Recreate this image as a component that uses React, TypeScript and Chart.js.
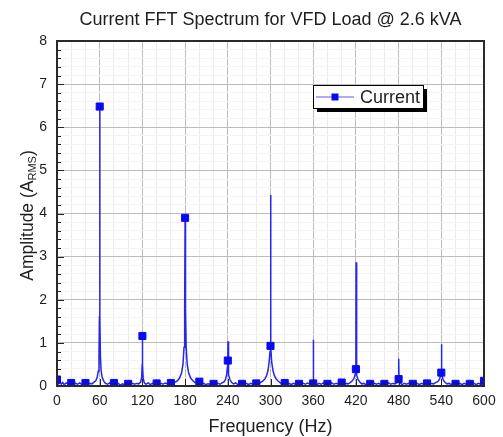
import React, { useEffect, useRef } from 'react';
import { Chart, registerables } from 'chart.js';

Chart.register(...registerables);

const chartTitle = 'Current FFT Spectrum for VFD Load @ 2.6 kVA';
const xAxisTitle = 'Frequency (Hz)';
const yAxisTitleMain = 'Amplitude (A';
const yAxisTitleSub = 'RMS';
const yAxisTitleEnd = ')';
const seriesName = 'Current';

// x-axis: 0..600 Hz, labels every 60, minor every 20
const xMin = 0;
const xMax = 600;
const xMajorStep = 60;
const xMinorStep = 20;
// y-axis: 0..8 A, labels every 1, minor every 0.2
const yMin = 0;
const yMax = 8;
const yMinorStep = 0.2;
// markers are drawn on every sample that falls on a multiple of this
const markerStepHz = 20;

const freqHz = [
  0, 1, 2.5, 4, 6, 8, 10, 13, 16, 20, 23, 26, 29, 32, 35, 38, 40, 43, 46, 49,
  52, 54.5, 56.5, 58, 59, 59.6, 60, 60.4, 61, 62, 63.5, 65.5, 68, 71, 74, 77,
  80, 83, 86, 89, 92, 95, 98, 100, 103, 106, 109, 112, 115, 117.5, 119, 119.7,
  120, 120.3, 121, 122.5, 125, 128, 131, 134, 137, 140, 143, 146, 149, 152, 155,
  158, 160, 163, 166, 169, 172, 175, 177, 178.5, 179.4, 180, 180.6, 181.5, 183,
  185, 188, 191, 194, 197, 200, 203, 206, 209, 212, 215, 218, 220, 223, 226, 229,
  232, 235, 237, 238.5, 239.5, 240, 240.3, 240.6, 241.5, 243, 245.5, 248, 251,
  254, 257, 260, 263, 266, 269, 272, 275, 278, 280, 283, 286, 289, 292, 294.5,
  296.5, 298, 299.3, 300, 300.3, 300.7, 301.7, 303.5, 305.5, 308, 311, 314, 317,
  320, 323, 326, 329, 332, 335, 338, 340, 343, 346, 349, 352, 355, 358, 359.6,
  360, 360.2, 360.5, 362, 365, 368, 371, 374, 377, 380, 383, 386, 389, 392, 395,
  398, 400, 403, 406, 409, 412, 415, 417.5, 419, 420, 420.3, 420.6, 421.5, 423,
  425.5, 428, 431, 434, 437, 440, 443, 446, 449, 452, 455, 458, 460, 463, 466,
  469, 472, 475, 478, 479.5, 480, 480.3, 480.6, 482, 485, 488, 491, 494, 497,
  500, 503, 506, 509, 512, 515, 518, 520, 523, 526, 529, 532, 535, 537.5, 539,
  540, 540.3, 540.6, 541.5, 543, 545.5, 548, 551, 554, 557, 560, 563, 566, 569,
  572, 575, 578, 580, 583, 586, 589, 592, 595, 597, 599, 600,
];

const ampRms = [
  0.15, 0.12, 0.05, 0.1, 0.04, 0.08, 0.03, 0.07, 0.04, 0.07, 0.03, 0.06, 0.04, 0.07, 0.03, 0.06, 0.07, 0.04, 0.06, 0.05,
  0.09, 0.12, 0.2, 0.35, 0.7, 1.6, 6.48, 1.6, 0.7, 0.35, 0.2, 0.12, 0.06, 0.04, 0.07, 0.03,
  0.07, 0.04, 0.06, 0.02, 0.05, 0.03, 0.06, 0.05, 0.03, 0.06, 0.04, 0.06, 0.05, 0.09, 0.2, 0.5,
  1.16, 0.5, 0.2, 0.08, 0.04, 0.07, 0.03, 0.06, 0.04, 0.06, 0.03, 0.06, 0.04, 0.07, 0.05,
  0.06, 0.07, 0.06, 0.09, 0.12, 0.18, 0.3, 0.5, 0.9, 1.8, 3.9, 1.8, 0.9, 0.5,
  0.3, 0.18, 0.12, 0.08, 0.06, 0.1, 0.04, 0.06, 0.03, 0.05, 0.04, 0.06, 0.05, 0.03, 0.06, 0.04,
  0.07, 0.1, 0.16, 0.28, 0.45, 0.59, 1.04, 0.45, 0.26, 0.15, 0.08, 0.05, 0.07,
  0.03, 0.06, 0.05, 0.04, 0.06, 0.03, 0.06, 0.04, 0.07, 0.06, 0.05, 0.08, 0.11, 0.16, 0.24,
  0.36, 0.55, 0.8, 0.93, 4.43, 0.9, 0.55, 0.36, 0.24, 0.16, 0.11, 0.07, 0.04,
  0.07, 0.04, 0.06, 0.03, 0.06, 0.04, 0.06, 0.05, 0.03, 0.06, 0.04, 0.07, 0.05, 0.07, 0.08,
  0.06, 1.07, 0.08, 0.05, 0.03, 0.06, 0.04, 0.07, 0.05, 0.05, 0.04, 0.07, 0.04, 0.06, 0.05,
  0.07, 0.08, 0.05, 0.06, 0.05, 0.08, 0.12, 0.18, 0.28, 0.39, 2.87, 0.4, 0.25, 0.15,
  0.09, 0.05, 0.06, 0.03, 0.06, 0.05, 0.03, 0.06, 0.04, 0.06, 0.03, 0.06, 0.05, 0.04, 0.07,
  0.04, 0.06, 0.05, 0.08, 0.12, 0.16, 0.63, 0.12, 0.07, 0.03, 0.06, 0.04, 0.06, 0.03,
  0.05, 0.04, 0.06, 0.03, 0.06, 0.04, 0.07, 0.06, 0.04, 0.06, 0.05, 0.08, 0.1, 0.16, 0.24,
  0.31, 0.97, 0.3, 0.2, 0.13, 0.08, 0.05, 0.06, 0.03, 0.06, 0.05, 0.04, 0.06, 0.03,
  0.06, 0.04, 0.06, 0.05, 0.04, 0.06, 0.03, 0.06, 0.04, 0.06, 0.1, 0.12,
];

const FONT = "'Liberation Sans', Arial, Helvetica, sans-serif";
const TEXT = '#1e1e1e';
const LINE_BLUE = '#2626ec';
const MARK_BLUE = '#0a0af2';

const isOnStep = (v: number, step: number) => Math.abs(v / step - Math.round(v / step)) < 1e-6;

const decorPlugin = {
  id: 'decor',
  afterDraw(chart: any) {
    const { ctx, chartArea: a, scales } = chart;
    const xs = scales.x;
    const ys = scales.y;
    ctx.save();

    // inward ticks
    ctx.strokeStyle = '#222';
    ctx.lineWidth = 1;
    const nY = Math.round((yMax - yMin) / yMinorStep);
    for (let i = 0; i <= nY; i++) {
      const v = yMin + i * yMinorStep;
      const major = isOnStep(v, 1);
      const py = Math.round(ys.getPixelForValue(v)) + 0.5;
      ctx.beginPath();
      ctx.moveTo(a.left, py);
      ctx.lineTo(a.left + (major ? 7 : 4), py);
      ctx.stroke();
    }
    for (let f = xMin; f <= xMax; f += xMinorStep) {
      const major = f % xMajorStep === 0;
      const px = Math.round(xs.getPixelForValue(f)) + 0.5;
      ctx.beginPath();
      ctx.moveTo(px, a.bottom);
      ctx.lineTo(px, a.bottom - (major ? 7 : 4));
      ctx.stroke();
    }

    // frame
    ctx.strokeStyle = '#2a2a2a';
    ctx.lineWidth = 2;
    ctx.strokeRect(a.left, a.top, a.right - a.left, a.bottom - a.top);

    // title
    ctx.fillStyle = TEXT;
    ctx.textAlign = 'center';
    ctx.textBaseline = 'middle';
    ctx.font = `18px ${FONT}`;
    ctx.fillText(chartTitle, (a.left + a.right) / 2, 20);

    // x title
    ctx.font = `18px ${FONT}`;
    ctx.fillText(xAxisTitle, (a.left + a.right) / 2, 427);

    // y title with subscript
    ctx.save();
    ctx.translate(28, (a.top + a.bottom) / 2 + 2);
    ctx.rotate(-Math.PI / 2);
    ctx.textAlign = 'left';
    ctx.font = `17.5px ${FONT}`;
    const wMain = ctx.measureText(yAxisTitleMain).width;
    const wEnd = ctx.measureText(yAxisTitleEnd).width;
    ctx.font = `11px ${FONT}`;
    const wSub = ctx.measureText(yAxisTitleSub).width;
    const total = wMain + wSub + wEnd;
    let cx = -total / 2;
    ctx.font = `17.5px ${FONT}`;
    ctx.fillText(yAxisTitleMain, cx, 0);
    cx += wMain;
    ctx.font = `11px ${FONT}`;
    ctx.fillText(yAxisTitleSub, cx, 5);
    cx += wSub;
    ctx.font = `17.5px ${FONT}`;
    ctx.fillText(yAxisTitleEnd, cx, 0);
    ctx.restore();

    // legend box with shadow
    const lx = a.left + 256;
    const ly = a.top + 44;
    const lw = 110;
    const lh = 23;
    ctx.fillStyle = '#000';
    ctx.fillRect(lx + 4, ly + 4, lw, lh);
    ctx.fillStyle = '#fff';
    ctx.fillRect(lx, ly, lw, lh);
    ctx.strokeStyle = '#000';
    ctx.lineWidth = 1;
    ctx.strokeRect(lx + 0.5, ly + 0.5, lw, lh);
    const my = ly + lh / 2 + 0.5;
    ctx.strokeStyle = '#5a5aff';
    ctx.lineWidth = 1.2;
    ctx.beginPath();
    ctx.moveTo(lx + 3, my);
    ctx.lineTo(lx + 41, my);
    ctx.stroke();
    ctx.fillStyle = MARK_BLUE;
    ctx.fillRect(lx + 22 - 3.5, my - 3.5, 7, 7);
    ctx.fillStyle = TEXT;
    ctx.textAlign = 'left';
    ctx.textBaseline = 'middle';
    ctx.font = `18px ${FONT}`;
    ctx.fillText(seriesName, lx + 47, my + 1);

    ctx.restore();
  },
};

export default function App() {
  const canvasRef = useRef<HTMLCanvasElement | null>(null);

  useEffect(() => {
    document.body.style.margin = '0';
    const canvas = canvasRef.current;
    if (!canvas) return;
    const points = freqHz.map((f, i) => ({ x: f, y: ampRms[i] }));
    const chart = new Chart(canvas, {
      type: 'line',
      data: {
        datasets: [
          {
            label: seriesName,
            data: points,
            borderColor: LINE_BLUE,
            borderWidth: 1.5,
            tension: 0,
            fill: false,
            pointStyle: 'rect',
            pointRadius: (c: any) => (isOnStep(freqHz[c.dataIndex], markerStepHz) ? 5 : 0),
            pointHoverRadius: (c: any) => (isOnStep(freqHz[c.dataIndex], markerStepHz) ? 5 : 0),
            pointBackgroundColor: MARK_BLUE,
            pointBorderColor: MARK_BLUE,
            pointBorderWidth: 1,
          } as any,
        ],
      },
      options: {
        responsive: false,
        animation: false,
        devicePixelRatio: 1,
        events: [],
        layout: { padding: { top: 41, right: 19, left: 0, bottom: 0 } },
        plugins: {
          legend: { display: false },
          tooltip: { enabled: false },
          title: { display: false },
        },
        scales: {
          x: {
            type: 'linear',
            min: xMin,
            max: xMax,
            afterFit: (s: any) => {
              s.height = 51;
            },
            ticks: {
              stepSize: xMinorStep,
              autoSkip: false,
              maxRotation: 0,
              padding: 7,
              color: TEXT,
              font: { size: 14, family: FONT },
              callback: (v: any) => (Number(v) % xMajorStep === 0 ? String(v) : ''),
            },
            grid: {
              drawTicks: false,
              lineWidth: 1,
              color: (c: any) => (c.tick && c.tick.value % xMajorStep === 0 ? '#bcbcbc' : '#ebebeb'),
            },
            border: { display: false },
          },
          y: {
            type: 'linear',
            min: yMin,
            max: yMax,
            afterFit: (s: any) => {
              s.width = 57;
            },
            ticks: {
              stepSize: yMinorStep,
              autoSkip: false,
              padding: 10,
              color: TEXT,
              font: { size: 14, family: FONT },
              callback: (v: any) => (isOnStep(Number(v), 1) ? String(Math.round(Number(v))) : ''),
            },
            grid: {
              drawTicks: false,
              lineWidth: 1,
              color: (c: any) => (c.tick && isOnStep(c.tick.value, 1) ? '#bcbcbc' : '#f4f4f4'),
            },
            border: { display: false },
          },
        },
      } as any,
      plugins: [decorPlugin],
    });
    return () => chart.destroy();
  }, []);

  return (
    <div style={{ width: 503, height: 437 }}>
      <canvas ref={canvasRef} width={503} height={437} style={{ display: 'block' }} />
    </div>
  );
}
